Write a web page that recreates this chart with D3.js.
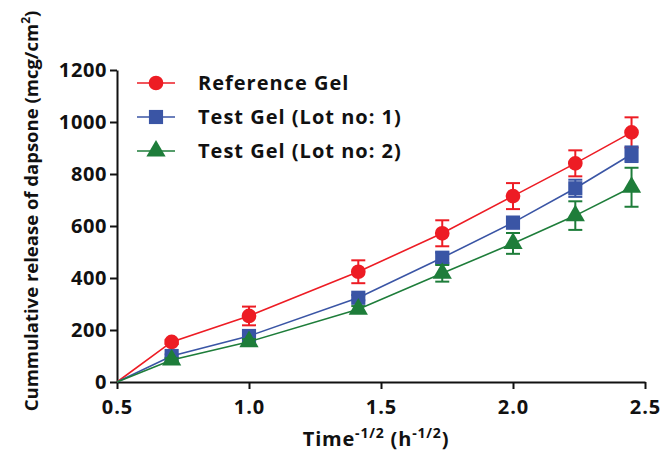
<!DOCTYPE html>
<meta charset="utf-8">
<head>
	<script src="https://d3js.org/d3.v7.min.js"></script>
	<style>
		body { margin: 0; background: #fff; }
		#chart svg text { font-family: "Open Sans", Lato, sans-serif; font-weight: bold; fill: #111; }
		.axis path, .axis line { stroke: #111; stroke-width: 2px; fill: none; }
	</style>
</head>

<body>
	<div id="chart"></div>
</body>

<script type="text/javascript">

	// x positions (time^-1/2), first point is the origin
	var times = [0.5, 0.707, 1.0, 1.414, 1.732, 2.0, 2.236, 2.449];

	var seriesNames = ["Reference Gel", "Test Gel (Lot no: 1)", "Test Gel (Lot no: 2)"];
	var refValues = [0, 154, 254, 424, 572, 715, 841, 960];
	var refErrors = [0, 8, 36, 44, 50, 50, 50, 58];
	var lot1Values = [0, 100, 177, 324, 478, 613, 745, 876];
	var lot1Errors = [0, 6, 10, 10, 20, 22, 33, 30];
	var lot2Values = [0, 85, 155, 280, 418, 533, 640, 749];
	var lot2Errors = [0, 6, 10, 12, 32, 40, 55, 75];

	var xTicks = [0.5, 1.0, 1.5, 2.0, 2.5];
	var yTicks = [0, 200, 400, 600, 800, 1000, 1200];

	var colors = ["#ed1c24", "#3a55a5", "#1e7d3a"];
	var shapes = [d3.symbolCircle, d3.symbolSquare, d3.symbolTriangle];
	var sizes = [170, 200, 160];

	var series = [
		{ name: seriesNames[0], values: refValues, errors: refErrors },
		{ name: seriesNames[1], values: lot1Values, errors: lot1Errors },
		{ name: seriesNames[2], values: lot2Values, errors: lot2Errors }
	];

	var W = 662, H = 457;
	var margin = {top: 70, right: 17, bottom: 75, left: 117},
		width = W - margin.left - margin.right,
		height = H - margin.top - margin.bottom;

	var x = d3.scaleLinear().domain([0.5, 2.5]).range([0, width]);
	var y = d3.scaleLinear().domain([0, 1200]).range([height, 0]);

	var svg = d3.select("#chart").append("svg")
		.attr("width", W)
		.attr("height", H)
		.append("g")
		.attr("transform", "translate(" + margin.left + "," + margin.top + ")");

	var xaxis = svg.append("g")
		.attr("class", "x axis")
		.attr("transform", "translate(0," + height + ")")
		.call(d3.axisBottom(x).tickValues(xTicks).tickSizeInner(7).tickSizeOuter(0).tickPadding(11).tickFormat(d3.format(".1f")));
	xaxis.selectAll("text").style("font-size", "20px").style("letter-spacing", "1px");

	var yaxis = svg.append("g")
		.attr("class", "y axis")
		.call(d3.axisLeft(y).tickValues(yTicks).tickSizeInner(7).tickSizeOuter(0).tickPadding(3).tickFormat(d3.format("d")));
	yaxis.selectAll("text").style("font-size", "20px").style("letter-spacing", "0.6px");

	// axis titles
	var xt = svg.append("text")
		.attr("x", width / 2 - 5)
		.attr("y", height + 64)
		.style("text-anchor", "middle")
		.style("font-size", "20px")
		.style("letter-spacing", "0.8px");
	xt.append("tspan").text("Time");
	xt.append("tspan").attr("dy", -8).style("font-size", "14px").text("-1/2");
	xt.append("tspan").attr("dy", 8).text(" (h");
	xt.append("tspan").attr("dy", -8).style("font-size", "14px").text("-1/2");
	xt.append("tspan").attr("dy", 8).text(")");

	var yt = svg.append("text")
		.attr("transform", "translate(" + (-79) + "," + (height / 2 - 15) + ")rotate(-90)")
		.style("text-anchor", "middle")
		.style("font-size", "18.5px");
	yt.append("tspan").text("Cummulative release of dapsone (mcg/cm");
	yt.append("tspan").attr("dy", -8).style("font-size", "12px").text("2");
	yt.append("tspan").attr("dy", 8).text(")");

	var line = d3.line()
		.x(function(d) { return x(d.t); })
		.y(function(d) { return y(d.v); });

	series.forEach(function(s, k) {
		var pts = times.map(function(t, i) { return { t: t, v: s.values[i], e: s.errors[i] }; });
		var g = svg.append("g").attr("class", "series" + k);

		g.append("path")
			.datum(pts)
			.attr("d", line)
			.style("fill", "none")
			.style("stroke", colors[k])
			.style("stroke-width", 1.6);

		var marked = pts.filter(function(d, i) { return i > 0; });

		var eb = g.selectAll(".err")
			.data(marked)
			.enter().append("g")
			.attr("class", "err")
			.style("stroke", colors[k])
			.style("stroke-width", 2);
		eb.append("line")
			.attr("x1", function(d) { return x(d.t); })
			.attr("x2", function(d) { return x(d.t); })
			.attr("y1", function(d) { return y(d.v + d.e); })
			.attr("y2", function(d) { return y(d.v - d.e); });
		eb.append("line")
			.attr("x1", function(d) { return x(d.t) - 7; })
			.attr("x2", function(d) { return x(d.t) + 7; })
			.attr("y1", function(d) { return y(d.v + d.e); })
			.attr("y2", function(d) { return y(d.v + d.e); });
		eb.append("line")
			.attr("x1", function(d) { return x(d.t) - 7; })
			.attr("x2", function(d) { return x(d.t) + 7; })
			.attr("y1", function(d) { return y(d.v - d.e); })
			.attr("y2", function(d) { return y(d.v - d.e); });

		g.selectAll(".pt")
			.data(marked)
			.enter().append("path")
			.attr("class", "pt")
			.attr("transform", function(d) { return "translate(" + x(d.t) + "," + y(d.v) + ")"; })
			.attr("d", d3.symbol().type(shapes[k]).size(sizes[k]))
			.style("fill", colors[k]);
	});

	// legend
	var legend = svg.append("g")
		.attr("class", "legend_area")
		.selectAll("g")
		.data(series)
		.enter().append("g")
		.attr("transform", function(d, i) { return "translate(20," + (13 + i * 34) + ")"; });

	legend.append("line")
		.attr("x1", 0).attr("x2", 38)
		.style("stroke", function(d, i) { return colors[i]; })
		.style("stroke-width", 1.6);
	legend.append("path")
		.attr("transform", "translate(19,0)")
		.attr("d", function(d, i) { return d3.symbol().type(shapes[i]).size(sizes[i])(); })
		.style("fill", function(d, i) { return colors[i]; });
	legend.append("text")
		.attr("x", 61)
		.attr("dy", "0.35em")
		.style("font-size", "20px")
		.style("letter-spacing", "1px")
		.text(function(d) { return d.name; });
</script>
